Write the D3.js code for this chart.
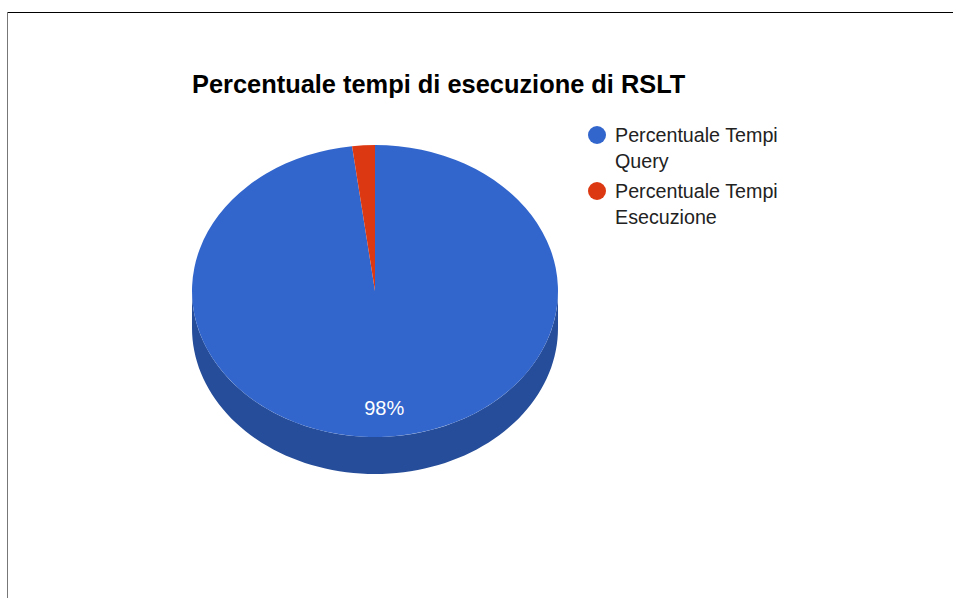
<!DOCTYPE html>
<html><head><meta charset="utf-8">
<script src="https://cdn.jsdelivr.net/npm/d3@7"></script>
<style>html,body{margin:0;padding:0;background:#fff;}svg{display:block;}</style>
</head><body>
<script>
const categories = ["Percentuale Tempi Query", "Percentuale Tempi Esecuzione"];
const legendLines = [["Percentuale Tempi", "Query"], ["Percentuale Tempi", "Esecuzione"]];
const values = [98, 2];
const colors = ["#3366cc", "#dc3912"];
const sideColors = ["#264d99", "#a52b0e"];
const title = "Percentuale tempi di esecuzione di RSLT";

const W = 953, H = 598;
const svg = d3.select("body").append("svg").attr("width", W).attr("height", H);
svg.append("rect").attr("width", W).attr("height", H).attr("fill", "#fff");

// frame lines
svg.append("line").attr("x1", 7).attr("x2", W).attr("y1", 12.5).attr("y2", 12.5).attr("stroke", "#000").attr("stroke-width", 1);
svg.append("line").attr("x1", 7.5).attr("x2", 7.5).attr("y1", 12).attr("y2", H).attr("stroke", "#777").attr("stroke-width", 1);

svg.append("text").attr("x", 192).attr("y", 93).attr("font-family", "Liberation Sans, Arial, sans-serif")
  .attr("font-weight", "bold").attr("font-size", 25.4).attr("fill", "#000").text(title);

const cx = 375, cy = 291, rx = 183, ry = 146, depth = 37;
const k = ry / rx;
const total = d3.sum(values);
const pie = d3.pie().sort(null).startAngle(0).endAngle(2 * Math.PI);
const arcs = pie(values);

const g = svg.append("g");
// sides (front half only)
arcs.forEach((a, i) => {
  const s = Math.max(a.startAngle, Math.PI / 2), e = Math.min(a.endAngle, 3 * Math.PI / 2);
  if (e <= s) return;
  const n = 80, top = [], bot = [];
  for (let j = 0; j <= n; j++) {
    const t = s + (e - s) * j / n;
    const x = cx + rx * Math.sin(t), y = cy - ry * Math.cos(t);
    top.push([x, y]); bot.push([x, y + depth]);
  }
  const pts = top.concat(bot.reverse());
  g.append("path").attr("d", d3.line()(pts) + "Z").attr("fill", sideColors[i]);
});
// top faces
const arc = d3.arc().innerRadius(0).outerRadius(rx);
const topG = g.append("g").attr("transform", `translate(${cx},${cy}) scale(1,${k})`);
topG.selectAll("path").data(arcs).join("path").attr("d", arc).attr("fill", (d, i) => colors[i]);

// labels
const labelArc = d3.arc().innerRadius(rx * 0.8).outerRadius(rx * 0.8);
arcs.forEach((a, i) => {
  const pct = Math.round(a.value / total * 100);
  if (pct < 5) return;
  const [lx, ly] = labelArc.centroid(a);
  svg.append("text").attr("x", cx + lx).attr("y", cy + ly * k + 7)
    .attr("text-anchor", "middle").attr("font-family", "Liberation Sans, Arial, sans-serif")
    .attr("font-size", 20).attr("fill", "#fff").text(pct + "%");
});

// legend
const lg = svg.append("g");
legendLines.forEach((lines, i) => {
  const y0 = 135 + i * 56;
  lg.append("circle").attr("cx", 597).attr("cy", y0).attr("r", 9).attr("fill", colors[i]);
  lines.forEach((t, j) => {
    lg.append("text").attr("x", 615).attr("y", y0 + 7 + j * 26)
      .attr("font-family", "Liberation Sans, Arial, sans-serif").attr("font-size", 19.7)
      .attr("fill", "#222").text(t);
  });
});
</script>
</body></html>
